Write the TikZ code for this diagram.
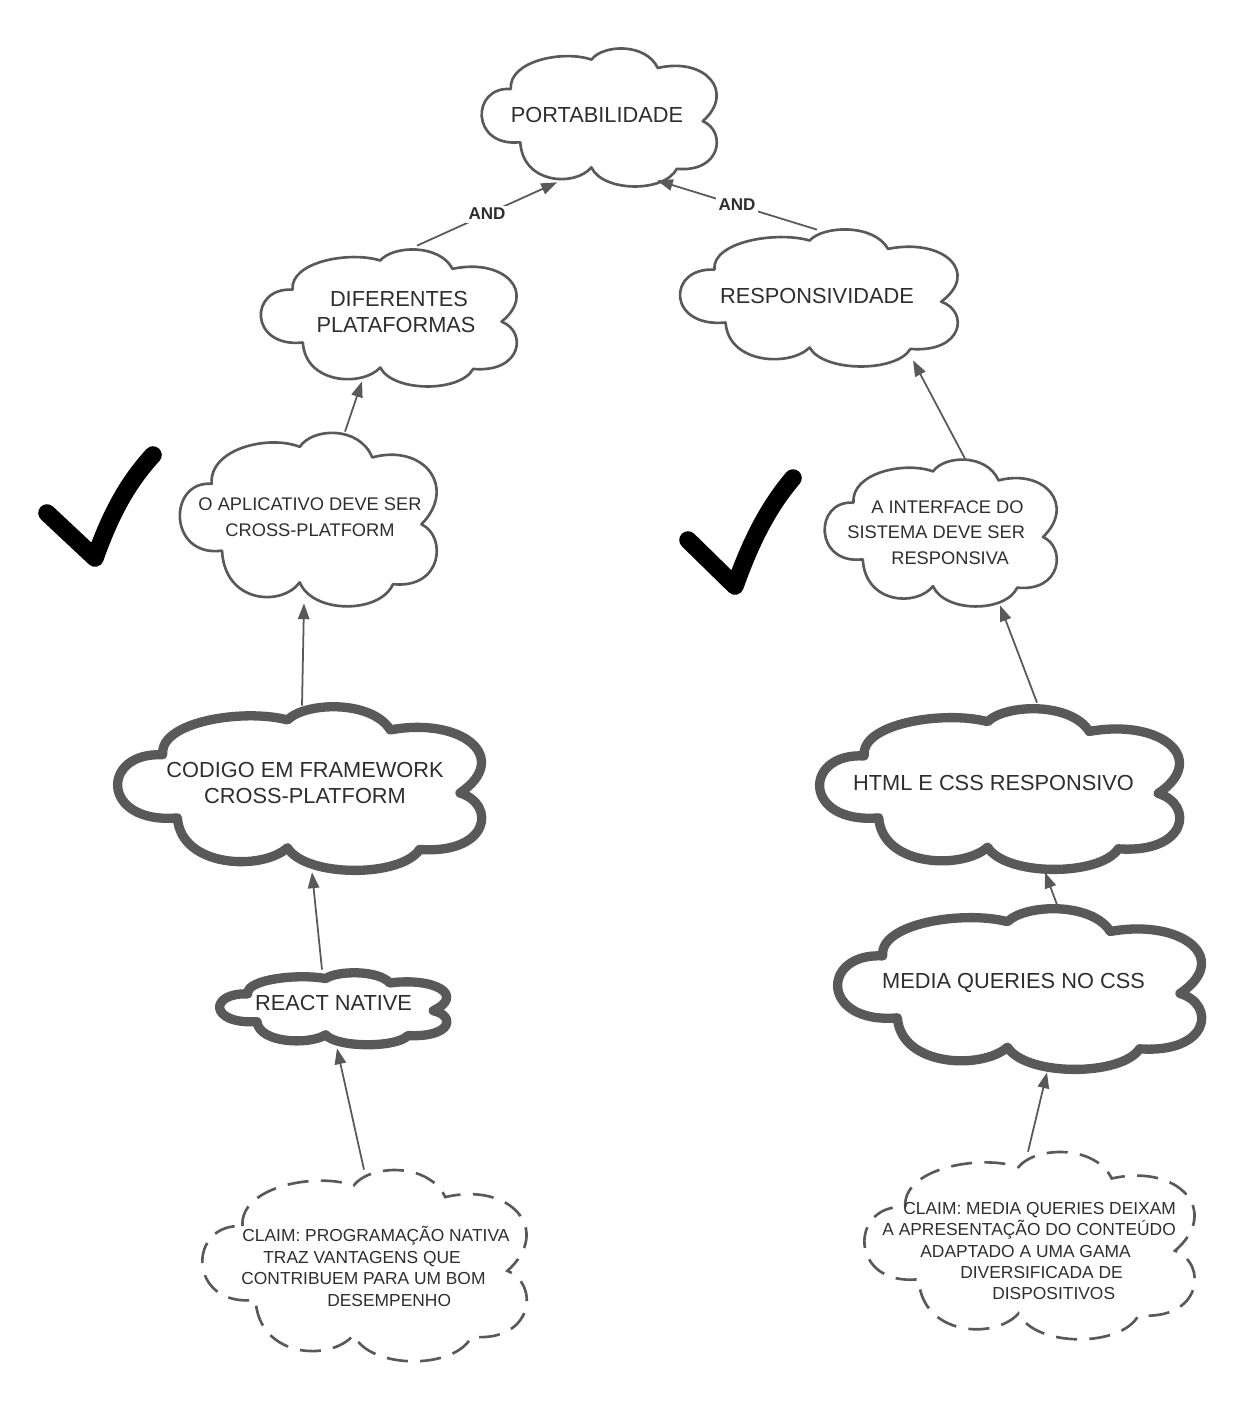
\documentclass[tikz,border=0pt]{standalone}
\usepackage{fontspec}
\setmainfont{Liberation Sans}
\usetikzlibrary{arrows.meta,calc,fit}
\definecolor{edge}{HTML}{595959}
\definecolor{ink}{HTML}{2E2E2E}

% A cloud outline stretched over the box (#3,#4)-(#5,#6) (y grows downwards),
% plus an invisible node #2 covering that box for the connectors.
\newcommand\cloudshape[6]{%
  \node[fit={(#3,#4) (#5,#6)}, inner sep=0pt] (#2) {};
  \pgfmathsetmacro\cldw{((#5)-(#3))*0.02}%
  \pgfmathsetmacro\cldh{-((#6)-(#4))*0.02}%
  \draw[#1, shift={(#3,#4)}, x=\cldw cm, y=\cldh cm]
    (0.13,0.30) .. controls (0.12,0.10) and (0.35,0.02) .. (0.47,0.09)
    .. controls (0.52,-0.02) and (0.70,-0.03) .. (0.75,0.15)
    .. controls (0.95,0.07) and (1.08,0.32) .. (0.94,0.53)
    .. controls (1.04,0.60) and (1.02,0.90) .. (0.83,0.87)
    .. controls (0.78,1.04) and (0.52,1.04) .. (0.47,0.86)
    .. controls (0.40,1.00) and (0.18,0.98) .. (0.17,0.68)
    .. controls (-0.04,0.72) and (-0.04,0.28) .. (0.13,0.30) -- cycle;
}

\tikzset{
  thincloud/.style={draw=edge, fill=white, line width=1.5pt, line join=round},
  thickcloud/.style={draw=edge, fill=white, line width=5.3pt, line join=round},
  claimcloud/.style={draw=edge, fill=white, line width=1.5pt, dash pattern=on 12pt off 7pt},
  bigtxt/.style={font=\fontsize{12.4}{14.8}\selectfont, text=ink, align=center, inner sep=0pt},
  smalltxt/.style={font=\fontsize{10.4}{14.6}\selectfont, text=ink, align=center, inner sep=0pt},
  claimtxt/.style={font=\fontsize{9.9}{12.2}\selectfont, text=ink, align=left, inner sep=0pt, anchor=west},
  conn/.style={draw=edge, line width=1pt, -{Triangle[length=9pt,width=6.5pt]}},
  andlbl/.style={font=\bfseries\fontsize{9.7}{11}\selectfont, text=ink, fill=white, inner sep=1.5pt},
  tick/.style={draw=black, line width=10pt, line cap=round, line join=round},
}

\begin{document}
\begin{tikzpicture}[x=0.02cm, y=-0.02cm]
\fill[white] (0,0) rectangle (1258,1413);
\useasboundingbox (0,0) rectangle (1258,1413);

% goal and sub-goals
\cloudshape{thincloud}{port}{480}{47}{717}{187}
\cloudshape{thincloud}{dif}{259}{248}{517}{387}
\cloudshape{thincloud}{resp}{678}{228}{958}{367}
\cloudshape{thincloud}{aplic}{178}{431}{437}{607}
\cloudshape{thincloud}{inter}{823}{458}{1057}{607}
% solutions
\cloudshape{thickcloud}{codigo}{115}{705}{482}{871}
\cloudshape{thickcloud}{html}{817}{707}{1180}{870}
\cloudshape{thickcloud}{react}{218}{972}{447}{1045}
\cloudshape{thickcloud}{media}{835}{907}{1202}{1070}
% claims
\cloudshape{claimcloud}{claimL}{200}{1168}{527}{1362}
\cloudshape{claimcloud}{claimR}{862}{1150}{1195}{1340}

% texts
\node[bigtxt] (port-t) at (597,115) {PORTABILIDADE};
\node[bigtxt] (dif-t) at (396,312) {\hspace*{1.2mm}DIFERENTES\\PLATAFORMAS};
\node[bigtxt] (resp-t) at (817,296) {RESPONSIVIDADE};
\node[smalltxt] (aplic-t) at (310,517) {O APLICATIVO DEVE SER\\CROSS-PLATFORM};
\node[smalltxt, align=left, anchor=west] (inter-t) at (847,532.5)
  {\hspace*{4.8mm}A INTERFACE DO\\SISTEMA DEVE SER\\\hspace*{8.8mm}RESPONSIVA};
\node[bigtxt] (codigo-t) at (305,783) {CODIGO EM FRAMEWORK\\CROSS-PLATFORM};
\node[bigtxt] (html-t) at (993.5,783) {HTML E CSS RESPONSIVO};
\node[bigtxt] (react-t) at (333.5,1003) {REACT NATIVE};
\node[bigtxt] (media-t) at (1013.5,983) {MEDIA QUERIES NO CSS};
\node[claimtxt] (claimL-t) at (241,1266.5)
  {\hspace*{0.2mm}CLAIM: PROGRAMAÇÃO NATIVA\\\hspace*{4.4mm}TRAZ VANTAGENS QUE\\CONTRIBUEM PARA UM BOM\\\hspace*{17.2mm}DESEMPENHO};
\node[claimtxt] (claimR-t) at (882,1251)
  {\hspace*{4.2mm}CLAIM: MEDIA QUERIES DEIXAM\\A APRESENTAÇÃO DO CONTEÚDO\\\hspace*{7.6mm}ADAPTADO A UMA GAMA\\\hspace*{15.6mm}DIVERSIFICADA DE\\\hspace*{22mm}DISPOSITIVOS};

% connectors
\draw[conn] ($(dif.north)+(29,-2)$) -- node[andlbl, pos=0.5] (and1) {AND} ($(port.south)+(-41.5,-5)$);
\draw[conn] ($(resp.north)+(-1,2)$) -- node[andlbl, pos=0.5] (and2) {AND} ($(port.south)+(58.5,-7)$);
\draw[conn] ($(aplic.north)+(37.5,1)$) -- ($(dif.south)+(-26,-6)$);
\draw[conn] ($(inter.north)+(25,1)$) -- ($(resp.south)+(95,-7)$);
\draw[conn] ($(codigo.north)+(3.5,1)$) -- ($(aplic.south)+(-3.5,-4)$);
\draw[conn] ($(html.north)+(38.5,-4)$) -- ($(inter.south)+(60,-2)$);
\draw[conn] ($(react.north)+(-10.5,-2)$) -- ($(codigo.south)+(13.5,1)$);
\draw[conn] ($(media.north)+(38.5,-2)$) -- ($(html.south)+(46.5,2)$);
\draw[conn] ($(claimL.north)+(0.5,2)$) -- ($(react.south)+(4.5,3)$);
\draw[conn] ($(claimR.north)+(-0.5,2)$) -- ($(media.south)+(28.5,2)$);

% check marks
\draw[tick] (47,513) -- (95,558) .. controls (112,510) and (130,480) .. (153,455);
\draw[tick] (688,540) -- (735,586) .. controls (752,538) and (770,505) .. (793,478);
\end{tikzpicture}
\end{document}
